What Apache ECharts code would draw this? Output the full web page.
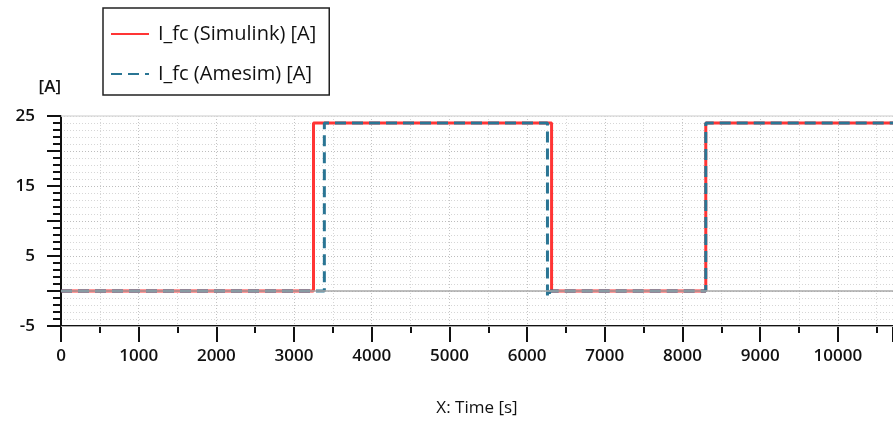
<!DOCTYPE html>
<html>
<head>
<meta charset="utf-8">
<script src="https://cdn.jsdelivr.net/npm/echarts@6/dist/echarts.min.js"></script>
<style>
  html, body { margin: 0; padding: 0; background: #fff; }
  #chart { width: 893px; height: 423px; }
</style>
</head>
<body>
<div id="chart"></div>
<script>
// Fuel-cell current, step profile from two simulators
const seriesNames = ['I_fc (Simulink) [A]', 'I_fc (Amesim) [A]'];
const simulinkCurrent = [
  [0, 0], [3250, 0], [3250, 24], [6315, 24], [6315, 0],
  [8300, 0], [8300, 24], [10710, 24]
];
const amesimCurrent = [
  [0, 0], [3390, 0], [3390, 24], [6262, 24], [6262, -0.9], [6300, 0],
  [8300, 0], [8300, 24], [10710, 24]
];
const yTickLabels = [25, 15, 5, -5];

const chart = echarts.init(document.getElementById('chart'));
const labelFont = { fontFamily: 'Open Sans', fontSize: 17, fontWeight: 600, color: '#111' };

chart.setOption({
  animation: false,
  backgroundColor: '#fff',
  grid: { left: 61, right: 0, top: 116, bottom: 97, containLabel: false },
  legend: {
    orient: 'vertical',
    left: 103,
    top: 8,
    padding: [16, 13, 11, 7],
    itemGap: 20,
    itemWidth: 38,
    itemHeight: 24,
    backgroundColor: '#fff',
    borderColor: '#222',
    borderWidth: 1.5,
    itemStyle: { opacity: 0 },
    textStyle: { fontFamily: 'Open Sans', fontSize: 20, color: '#111', padding: [0, 0, 0, 4] },
    data: seriesNames
  },
  xAxis: {
    type: 'value',
    min: 0,
    max: 10710,
    interval: 1000,
    name: 'X: Time [s]',
    nameLocation: 'middle',
    nameGap: 74,
    nameTextStyle: { fontFamily: 'Open Sans', fontSize: 17, color: '#111' },
    axisLine: { show: true, onZero: false, lineStyle: { color: '#111', width: 2 } },
    axisTick: { show: true, length: 16, lineStyle: { color: '#111', width: 2 } },
    minorTick: { show: true, splitNumber: 2, length: 7, lineStyle: { color: '#111', width: 2 } },
    axisLabel: Object.assign({
      margin: 22,
      showMaxLabel: false,
      formatter: v => String(v)
    }, labelFont),
    splitLine: { show: true, lineStyle: { color: '#c4c4c4', type: [1, 2], width: 1 } },
    minorSplitLine: { show: true, lineStyle: { color: '#d6d6d6', type: [1, 2], width: 1 } }
  },
  yAxis: {
    type: 'value',
    min: -5,
    max: 25,
    interval: 5,
    name: '[A]',
    nameLocation: 'end',
    nameGap: 20,
    nameTextStyle: Object.assign({ align: 'right' }, labelFont),
    axisLine: { show: true, onZero: false, lineStyle: { color: '#111', width: 2 } },
    axisTick: { show: true, length: 14, lineStyle: { color: '#111', width: 2 } },
    minorTick: { show: true, splitNumber: 5, length: 8, lineStyle: { color: '#111', width: 2 } },
    axisLabel: Object.assign({
      margin: 26,
      formatter: v => (yTickLabels.indexOf(v) >= 0 ? String(v) : '')
    }, labelFont),
    splitLine: { show: true, lineStyle: { color: '#bdbdbd', type: [1, 2], width: 1 } },
    minorSplitLine: { show: true, lineStyle: { color: '#d6d6d6', type: [1, 2], width: 1 } }
  },
  series: [
    {
      name: seriesNames[0],
      type: 'line',
      data: simulinkCurrent,
      symbol: 'none',
      z: 3,
      lineStyle: { color: '#ff3535', width: 3 },
      itemStyle: { color: '#ff3535' },
      markLine: {
        silent: true,
        symbol: 'none',
        label: { show: false },
        animation: false,
        data: [
          { yAxis: 0, lineStyle: { color: '#a8a8a8', width: 1.5, type: 'solid' } },
          { yAxis: 25, lineStyle: { color: '#dcdcdc', width: 1.5, type: 'solid' } },
          { yAxis: -5, lineStyle: { color: '#a8a8a8', width: 1, type: 'solid' } }
        ]
      }
    },
    {
      name: seriesNames[1],
      type: 'line',
      data: amesimCurrent,
      symbol: 'none',
      z: 4,
      lineStyle: { color: '#2a7594', width: 3, type: [11, 6] },
      itemStyle: { color: '#2a7594' }
    }
  ]
});
</script>
</body>
</html>
